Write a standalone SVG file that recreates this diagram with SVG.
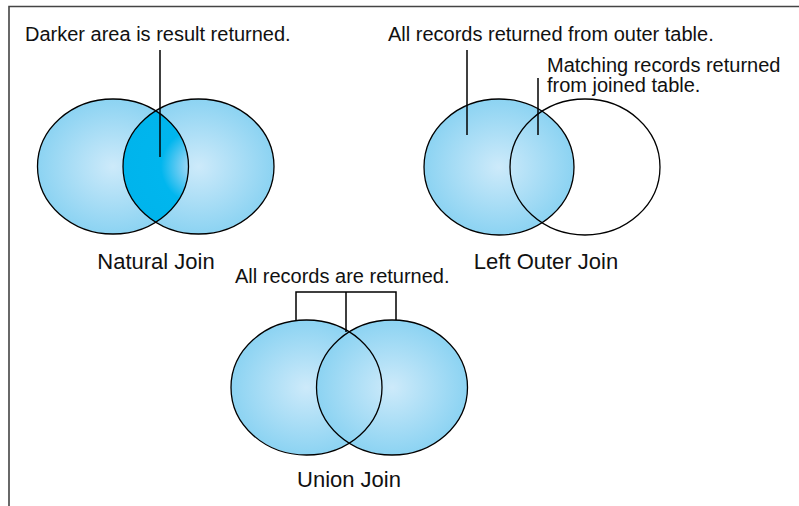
<svg xmlns="http://www.w3.org/2000/svg" width="799" height="506" viewBox="0 0 799 506">
<style>
text{font-family:"Liberation Sans",Arial,sans-serif;fill:#111}
.lbl{font-size:20px}
.ttl{font-size:22px;text-anchor:middle}
.outl{fill:none;stroke:#000;stroke-width:1.3}
.lead{fill:none;stroke:#000;stroke-width:1.5}
</style>
<defs>
<radialGradient id="g" cx="0.5" cy="0.5" r="0.5">
<stop offset="0" stop-color="#cdeafa"/>
<stop offset="1" stop-color="#8cd3f2"/>
</radialGradient>
<radialGradient id="gd" gradientUnits="userSpaceOnUse" cx="198.5" cy="166.5" r="75">
<stop offset="0" stop-color="#cdeafa"/>
<stop offset="0.2" stop-color="#7fd0f4"/>
<stop offset="0.5" stop-color="#00b6ee"/>
<stop offset="1" stop-color="#00b4ec"/>
</radialGradient>
<clipPath id="nl"><ellipse cx="113" cy="166.5" rx="75.5" ry="67.5"/></clipPath>
</defs>
<g id="frame" fill="none" stroke="#444" stroke-width="1.6">
<path d="M9,506 V6.5 H799"/>
</g>
<g id="natural-join">
<ellipse cx="113" cy="166.5" rx="75.5" ry="67.5" fill="url(#g)"/>
<ellipse cx="198.5" cy="166.5" rx="75.5" ry="67.5" fill="url(#g)"/>
<ellipse cx="198.5" cy="166.5" rx="75.5" ry="67.5" fill="url(#gd)" clip-path="url(#nl)"/>
<ellipse class="outl" cx="113" cy="166.5" rx="75.5" ry="67.5"/>
<ellipse class="outl" cx="198.5" cy="166.5" rx="75.5" ry="67.5"/>
<text class="ttl" x="156" y="269">Natural Join</text>
</g>
<g id="left-outer-join">
<ellipse cx="499" cy="167" rx="75" ry="68" fill="url(#g)"/>
<ellipse class="outl" cx="499" cy="167" rx="75" ry="68"/>
<ellipse class="outl" cx="585" cy="167" rx="75" ry="68"/>
<text class="ttl" x="546" y="269">Left Outer Join</text>
</g>
<g id="union-join">
<ellipse cx="306.5" cy="387.5" rx="75.5" ry="67.5" fill="url(#g)"/>
<ellipse cx="392" cy="387.5" rx="75.5" ry="67.5" fill="url(#g)"/>
<ellipse class="outl" cx="306.5" cy="387.5" rx="75.5" ry="67.5"/>
<ellipse class="outl" cx="392" cy="387.5" rx="75.5" ry="67.5"/>
<text class="ttl" x="349" y="487">Union Join</text>
</g>
<g id="annotations">
<text class="lbl" x="25" y="41">Darker area is result returned.</text>
<text class="lbl" x="388" y="41">All records returned from outer table.</text>
<text class="lbl" x="547" y="72">Matching records returned</text>
<text class="lbl" x="547" y="92">from joined table.</text>
<text class="lbl" x="235" y="283">All records are returned.</text>
</g>
<g id="connectors" class="lead">
<path class="lead" d="M160,50 V157"/>
<path class="lead" d="M467,50 V135"/>
<path class="lead" d="M538,78 V135"/>
<path class="lead" d="M296,320 V292 H396 V320 M346,292 V332"/>
</g>
</svg>
